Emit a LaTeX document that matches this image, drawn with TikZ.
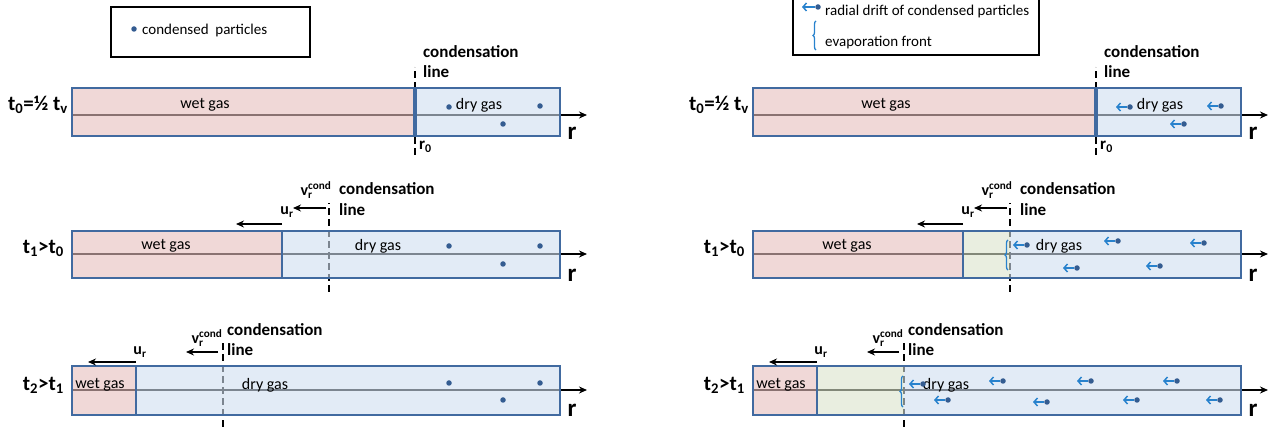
\documentclass[tikz,border=0pt]{standalone}
\usepackage{fontspec}
\setmainfont{Carlito}
\usetikzlibrary{arrows.meta,decorations.pathreplacing}

\definecolor{wetc}{RGB}{230,190,189}
\definecolor{dryc}{RGB}{207,222,240}
\definecolor{greenc}{RGB}{218,227,203}
\definecolor{bordc}{RGB}{65,106,160}
\definecolor{dotc}{RGB}{52,92,145}
\definecolor{driftc}{RGB}{40,130,205}

\begin{document}
\begin{tikzpicture}[x=1pt,y=1pt,
	wetfill/.style={fill=wetc,fill opacity=0.6},
	dryfill/.style={fill=dryc,fill opacity=0.6},
	greenfill/.style={fill=greenc,fill opacity=0.6},
	tube/.style={draw=bordc,line width=1.6pt},
	axis/.style={line width=1.4pt,-{Stealth[length=8pt,width=7pt]}},
	condline/.style={line width=1.6pt,dash pattern=on 7pt off 4pt},
	speed/.style={line width=1.6pt,-{Stealth[length=8pt,width=7pt]}},
	particle/.style={circle,fill=dotc,inner sep=0,minimum size=5.5pt},
	drift/.style={draw=driftc,line width=1.5pt,-{Straight Barb[length=3.5pt,width=8pt]}},
	front/.style={draw=driftc,line width=1.3pt,decorate,decoration={brace,amplitude=3pt}},
	gas/.style={font=\fontsize{16}{18}\selectfont,inner sep=0},
	legtext/.style={font=\fontsize{15}{17}\selectfont,inner sep=0,anchor=west},
	cond/.style={font=\bfseries\fontsize{17}{19}\selectfont,inner sep=0,anchor=west},
	vel/.style={font=\bfseries\fontsize{16}{18}\selectfont,inner sep=0},
	axislabel/.style={font=\bfseries\fontsize{25}{27}\selectfont,inner sep=0},
	rowlabel/.style={font=\bfseries\fontsize{21}{24}\selectfont,inner sep=0,anchor=east}]
	\useasboundingbox (0,0) rectangle (1270,428);
	\clip (0,0) rectangle (1270,428);

	% legends
	\draw[line width=1.8pt] (111,371) rectangle (310,421);
	\node[particle] (legdot) at (134,399) {};
	\node[legtext] (legdots) at (142,397) {condensed\ \ particles};
	\draw[line width=1.8pt] (793,373) rectangle (1039,432);
	\node[particle] (legp) at (818,421) {};
	\draw[drift] (legp) -- (802,421);
	\node[legtext] (legdrift) at (825,416) {radial drift of condensed particles};
	\draw[front] (816,378) -- (816,407);
	\node[legtext] (legfront) at (825,385) {evaporation front};

	% left, t0
	\begin{scope}[shift={(0,292)}]
		\draw[axis] (72,21) -- (587,21);
		\draw[condline] (415,-19) -- (415,69);
		\fill[wetfill] (72,0) rectangle (415,48);
		\fill[dryfill] (415,0) rectangle (560,48);
		\draw[tube] (72,0) rectangle (560,48);
		\draw[tube,line width=3.3pt] (415,0) -- (415,48);
		\node[gas] (wetA) at (205,31) {wet gas};
		\node[gas] (dryA) at (479,31) {dry gas};
		\node[particle] (pA1) at (449,29) {};
		\node[particle] (pA2) at (540,30) {};
		\node[particle] (pA3) at (503,12) {};
		\node[cond] (condA) at (423,84) {condensation};
		\node[cond] (lineA) at (423,64) {line};
		\node[cond] (rA) at (419,-11) {r\textsubscript{0}};
		\node[axislabel] (axA) at (572,3) {r};
		\node[rowlabel] (tA) at (68,31) {t\textsubscript{0}=½ t\textsubscript{v}};
	\end{scope}

	% left, t1
	\begin{scope}[shift={(0,150)}]
		\draw[axis] (72,24) -- (587,24);
		\draw[condline] (329,-14) -- (329,75);
		\fill[wetfill] (72,0) rectangle (282,47);
		\fill[dryfill] (282,0) rectangle (560,47);
		\draw[tube] (72,0) rectangle (560,47);
		\draw[tube] (282,0) -- (282,47);
		\node[gas] (wetB) at (166,32) {wet gas};
		\node[gas] (dryB) at (378,32) {dry gas};
		\node[particle] (pB1) at (449,32) {};
		\node[particle] (pB2) at (540,32) {};
		\node[particle] (pB3) at (503,14) {};
		\coordinate (uB) at (282,54);
		\draw[speed] (uB) -- (236,54);
		\node[vel] (uBl) at (287,66) {u\textsubscript{r}};
		\coordinate (vB) at (326,70);
		\draw[speed] (vB) -- (293,70);
		\node[vel] (vBl) at (316,88) {v\rlap{\textsubscript{r}}\textsuperscript{cond}};
		\node[cond] (condB) at (339,89) {condensation};
		\node[cond] (lineB) at (339,68) {line};
		\node[axislabel] (axB) at (572,3) {r};
		\node[rowlabel] (tB) at (64,30) {t\textsubscript{1}>t\textsubscript{0}};
	\end{scope}

	% left, t2
	\begin{scope}[shift={(0,13)}]
		\draw[axis] (72,25) -- (587,25);
		\draw[condline] (223,-12) -- (223,72);
		\fill[wetfill] (72,0) rectangle (136,49);
		\fill[dryfill] (136,0) rectangle (560,49);
		\draw[tube] (72,0) rectangle (560,49);
		\draw[tube] (136,0) -- (136,49);
		\node[gas] (wetC) at (100,30) {wet gas};
		\node[gas] (dryC) at (265,30) {dry gas};
		\node[particle] (pC1) at (449,32) {};
		\node[particle] (pC2) at (540,32) {};
		\node[particle] (pC3) at (503,15) {};
		\coordinate (uC) at (136,53);
		\draw[speed] (uC) -- (88,53);
		\node[vel] (uCl) at (140,63) {u\textsubscript{r}};
		\coordinate (vC) at (218,63);
		\draw[speed] (vC) -- (186,63);
		\node[vel] (vCl) at (207,77) {v\rlap{\textsubscript{r}}\textsuperscript{cond}};
		\node[cond] (condC) at (227,85) {condensation};
		\node[cond] (lineC) at (227,65) {line};
		\node[axislabel] (axC) at (572,5) {r};
		\node[rowlabel] (tC) at (64,30) {t\textsubscript{2}>t\textsubscript{1}};
	\end{scope}

	% right, t0
	\begin{scope}[shift={(681,292)}]
		\draw[axis] (72,21) -- (587,21);
		\draw[condline] (415,-19) -- (415,69);
		\fill[wetfill] (72,0) rectangle (415,48);
		\fill[dryfill] (415,0) rectangle (560,48);
		\draw[tube] (72,0) rectangle (560,48);
		\draw[tube,line width=3.3pt] (415,0) -- (415,48);
		\node[gas] (wetD) at (205,31) {wet gas};
		\node[gas] (dryD) at (479,31) {dry gas};
		\node[particle] (pD1) at (449,29) {};
		\node[particle] (pD2) at (540,30) {};
		\node[particle] (pD3) at (503,12) {};
		\draw[drift] (pD1) -- ++(-14,0);
		\draw[drift] (pD2) -- ++(-14,0);
		\draw[drift] (pD3) -- ++(-14,0);
		\node[cond] (condD) at (423,84) {condensation};
		\node[cond] (lineD) at (423,64) {line};
		\node[cond] (rD) at (419,-11) {r\textsubscript{0}};
		\node[axislabel] (axD) at (572,3) {r};
		\node[rowlabel] (tD) at (68,31) {t\textsubscript{0}=½ t\textsubscript{v}};
	\end{scope}

	% right, t1
	\begin{scope}[shift={(681,150)}]
		\draw[axis] (72,24) -- (587,24);
		\draw[condline] (329,-14) -- (329,75);
		\fill[wetfill] (72,0) rectangle (282,47);
		\fill[greenfill] (282,0) rectangle (329,47);
		\fill[dryfill] (329,0) rectangle (560,47);
		\draw[tube] (72,0) rectangle (560,47);
		\draw[tube] (282,0) -- (282,47);
		\draw[front] (327,8) -- (327,38);
		\node[gas] (wetE) at (166,32) {wet gas};
		\node[gas] (dryE) at (378,32) {dry gas};
		\node[particle] (pE1) at (346,33) {};
		\node[particle] (pE2) at (437,37) {};
		\node[particle] (pE3) at (523,35) {};
		\node[particle] (pE4) at (396,10) {};
		\node[particle] (pE5) at (479,12) {};
		\foreach \p in {pE1,pE2,pE3,pE4,pE5}
			\draw[drift] (\p) -- ++(-14,0);
		\coordinate (uE) at (282,54);
		\draw[speed] (uE) -- (236,54);
		\node[vel] (uEl) at (287,66) {u\textsubscript{r}};
		\coordinate (vE) at (326,70);
		\draw[speed] (vE) -- (293,70);
		\node[vel] (vEl) at (316,88) {v\rlap{\textsubscript{r}}\textsuperscript{cond}};
		\node[cond] (condE) at (339,89) {condensation};
		\node[cond] (lineE) at (339,68) {line};
		\node[axislabel] (axE) at (572,3) {r};
		\node[rowlabel] (tE) at (64,30) {t\textsubscript{1}>t\textsubscript{0}};
	\end{scope}

	% right, t2
	\begin{scope}[shift={(681,13)}]
		\draw[axis] (72,25) -- (587,25);
		\draw[condline] (223,-12) -- (223,72);
		\fill[wetfill] (72,0) rectangle (136,49);
		\fill[greenfill] (136,0) rectangle (223,49);
		\fill[dryfill] (223,0) rectangle (560,49);
		\draw[tube] (72,0) rectangle (560,49);
		\draw[tube] (136,0) -- (136,49);
		\draw[front] (222,8) -- (222,39);
		\node[gas] (wetF) at (100,30) {wet gas};
		\node[gas] (dryF) at (265,30) {dry gas};
		\node[particle] (pF1) at (242,31) {};
		\node[particle] (pF2) at (322,34) {};
		\node[particle] (pF3) at (410,34) {};
		\node[particle] (pF4) at (496,34) {};
		\node[particle] (pF5) at (267,15) {};
		\node[particle] (pF6) at (366,13) {};
		\node[particle] (pF7) at (456,15) {};
		\node[particle] (pF8) at (539,15) {};
		\foreach \p in {pF1,pF2,pF3,pF4,pF5,pF6,pF7,pF8}
			\draw[drift] (\p) -- ++(-14,0);
		\coordinate (uF) at (136,53);
		\draw[speed] (uF) -- (88,53);
		\node[vel] (uFl) at (140,63) {u\textsubscript{r}};
		\coordinate (vF) at (218,63);
		\draw[speed] (vF) -- (186,63);
		\node[vel] (vFl) at (207,77) {v\rlap{\textsubscript{r}}\textsuperscript{cond}};
		\node[cond] (condF) at (227,85) {condensation};
		\node[cond] (lineF) at (227,65) {line};
		\node[axislabel] (axF) at (572,5) {r};
		\node[rowlabel] (tF) at (64,30) {t\textsubscript{2}>t\textsubscript{1}};
	\end{scope}
\end{tikzpicture}
\end{document}
